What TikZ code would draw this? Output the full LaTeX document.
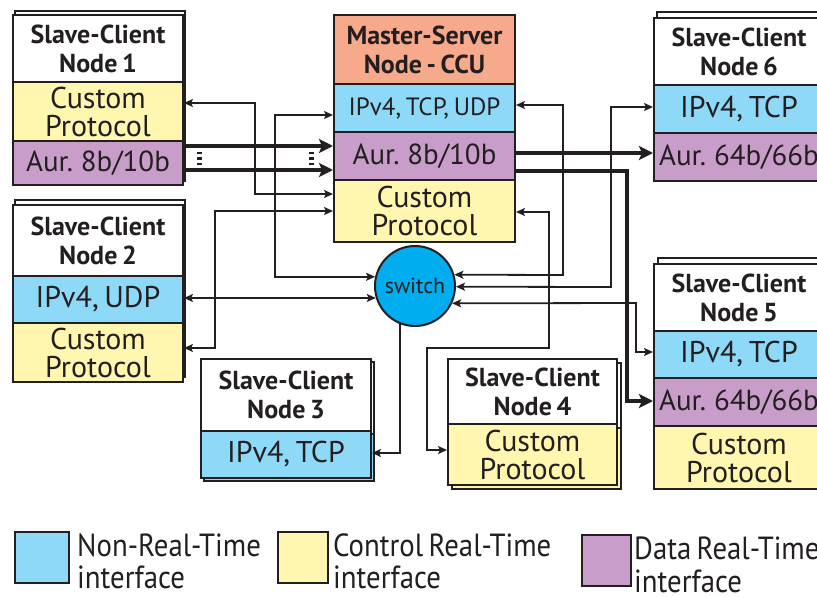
\documentclass[tikz,border=0pt]{standalone}
\usepackage{fontspec}
\setmainfont{PT Sans}[WordSpace=0.7]
\newfontfamily\legendfont[FakeStretch=0.9,WordSpace=0.7]{PT Sans}
\usetikzlibrary{arrows.meta}

\definecolor{ink}{HTML}{231F20}
\definecolor{hdrsalmon}{HTML}{F7A98B}
\definecolor{nrtblue}{HTML}{8ED8F8}
\definecolor{ctlyellow}{HTML}{FFF7B0}
\definecolor{datapurple}{HTML}{C99DC9}
\definecolor{switchblue}{HTML}{00AEEF}

\tikzset{
  seg/.style={draw=ink, line width=2pt, inner sep=0pt, anchor=north west,
              align=center, text=ink},
  hdr/.style={seg, fill=white, font=\fontsize{26}{29}\selectfont\bfseries},
  mhdr/.style={seg, fill=hdrsalmon, font=\fontsize{26}{29}\selectfont\bfseries},
  ctl/.style={seg, fill=ctlyellow, font=\fontsize{30}{28}\selectfont},
  dat/.style={seg, fill=datapurple, font=\fontsize{29}{30}\selectfont},
  nrt/.style={seg, fill=nrtblue, font=\fontsize{30}{30}\selectfont},
  backseg/.style={draw=ink, line width=2pt},
  tipthin/.tip={Stealth[length=9pt,width=8pt,inset=2pt]},
  tipbus/.tip={Stealth[length=14pt,width=14pt,inset=3pt]},
  link/.style={draw=ink, line width=1.8pt},
  both/.style={link, tipthin-tipthin},
  one/.style={link, -tipthin},
  bus/.style={draw=ink, line width=4.5pt, -tipbus},
  keybox/.style={draw=ink, line width=1.8pt, inner sep=0pt, anchor=north west},
  keytext/.style={anchor=base west, inner sep=0pt, text=ink,
                  font=\legendfont\fontsize{32}{32}\selectfont},
}
\newcommand\backlayer[4]{\draw[backseg, fill=#4] (#1) rectangle ++(#2,#3);}

\begin{document}
\begin{tikzpicture}[x=1pt,y=-1pt]
\useasboundingbox (0,0) rectangle (817,597);
\clip (0,0) rectangle (817,597);
\fill[white] (0,0) rectangle (817,597);

% ---------- stacked copies behind the slave-client nodes ----------
% node 1
\backlayer{15,11}{170}{67}{white}
\backlayer{15,78}{170}{59}{ctlyellow}
\backlayer{15,137}{170}{44}{datapurple}
% node 2
\backlayer{15,200}{170}{71}{white}
\backlayer{15,271}{170}{47}{nrtblue}
\backlayer{15,318}{170}{59}{ctlyellow}
% node 3
\backlayer{204,362}{170}{72}{white}
\backlayer{204,434}{170}{47}{nrtblue}
% node 4
\backlayer{452,363}{169}{65}{white}
\backlayer{452,428}{169}{61}{ctlyellow}
% node 5
\backlayer{658,258}{170}{67}{white}
\backlayer{658,325}{170}{47}{nrtblue}
\backlayer{658,372}{170}{48}{datapurple}
\backlayer{658,420}{170}{63}{ctlyellow}
% node 6
\backlayer{657,12}{170}{67}{white}
\backlayer{657,79}{170}{48}{nrtblue}
\backlayer{657,127}{170}{48}{datapurple}

% ---------- slave-client node 1 ----------
\node[hdr, minimum width=170pt, minimum height=67pt] (n1h) at (12,14) {Slave-Client\\Node 1};
\node[ctl, minimum width=170pt, minimum height=59pt] (n1c) at (12,81) {Custom\\Protocol};
\node[dat, minimum width=170pt, minimum height=44pt] (n1a) at (12,140) {Aur. 8b/10b};

% ---------- master-server node ----------
\node[mhdr, minimum width=181pt, minimum height=69pt] (mh) at (333,14) {Master-Server\\Node - CCU};
\node[nrt, minimum width=181pt, minimum height=48pt, font=\fontsize{25}{25}\selectfont] (mi) at (333,83) {IPv4, TCP, UDP};
\node[dat, minimum width=181pt, minimum height=48pt] (ma) at (333,131) {Aur. 8b/10b};
\node[ctl, minimum width=181pt, minimum height=62pt] (mc) at (333,179) {Custom\\Protocol};

% ---------- slave-client node 6 ----------
\node[hdr, minimum width=170pt, minimum height=67pt] (n6h) at (653,17) {Slave-Client\\Node 6};
\node[nrt, minimum width=170pt, minimum height=48pt] (n6i) at (653,84) {IPv4, TCP};
\node[dat, minimum width=170pt, minimum height=48pt] (n6a) at (653,132) {Aur. 64b/66b};

% ---------- slave-client node 2 ----------
\node[hdr, minimum width=170pt, minimum height=71pt] (n2h) at (12,204) {Slave-Client\\Node 2};
\node[nrt, minimum width=170pt, minimum height=47pt] (n2i) at (12,275) {IPv4, UDP};
\node[ctl, minimum width=170pt, minimum height=59pt] (n2c) at (12,322) {Custom\\Protocol};

% ---------- slave-client node 3 ----------
\node[hdr, minimum width=170pt, minimum height=72pt] (n3h) at (200,358) {Slave-Client\\Node 3};
\node[nrt, minimum width=170pt, minimum height=47pt] (n3i) at (200,430) {IPv4, TCP};

% ---------- slave-client node 4 ----------
\node[hdr, minimum width=169pt, minimum height=65pt] (n4h) at (447,358) {Slave-Client\\Node 4};
\node[ctl, minimum width=169pt, minimum height=61pt] (n4c) at (447,423) {Custom\\Protocol};

% ---------- slave-client node 5 ----------
\node[hdr, minimum width=170pt, minimum height=67pt] (n5h) at (653,263) {Slave-Client\\Node 5};
\node[nrt, minimum width=170pt, minimum height=47pt] (n5i) at (653,330) {IPv4, TCP};
\node[dat, minimum width=170pt, minimum height=48pt] (n5a) at (653,377) {Aur. 64b/66b};
\node[ctl, minimum width=170pt, minimum height=63pt] (n5c) at (653,425) {Custom\\Protocol};

% ---------- switch ----------
\node[circle, draw=ink, line width=2pt, fill=switchblue, minimum size=80pt,
      inner sep=0pt, text=ink, font=\fontsize{22}{22}\selectfont] (sw) at (415,286) {switch};

% ---------- control / non-real-time links ----------
\draw[both] (n1c.east |- 0,103) -| (255,194) -- (mc.west |- 0,194);
\draw[both] (sw.167) -| (275,115) -- (mi.west |- 0,115);
\draw[both] (n2c.east |- 0,348) -| (215,211) -- (mc.west |- 0,211);
\draw[both] (n2i.east |- 0,298) -- (sw.197.5);
\draw[both] (mi.east |- 0,105) -| (563,275) -- (sw.16);
\draw[both] (n6i.west |- 0,107) -| (611,287) -- (sw.-1.5);
\draw[both] (mc.east |- 0,212) -- (549,212) -- (549,348) -- (427,348) |- (n4c.west |- 0,450);
\draw[one] (sw.249.5) |- (n3i.east |- 0,453);
\draw[both] (sw.335) -- (636,303) |- (n5i.west |- 0,352);

% ---------- data real-time (Aurora) links ----------
\draw[bus] (n1a.east |- 0,146) -- (ma.west |- 0,146);
\draw[bus] (n1a.east |- 0,170) -- (ma.west |- 0,170);
\draw[bus] (ma.east |- 0,153) -- (n6a.west |- 0,153);
\draw[bus] (ma.east |- 0,171) -| (627,401) -- (n5a.west |- 0,401);

% vertical ellipsis marks between the two Aurora lanes
\foreach \xx in {197,309}
  \foreach \yy in {153,158.5,164}
    \fill[ink] (\xx,\yy-1.3) rectangle (\xx+4.5,\yy+1.3);

% ---------- legend ----------
\node[keybox, fill=nrtblue, minimum width=54pt, minimum height=51pt] (k1) at (14,531) {};
\node[keytext] (k1a) at (77,556) {Non-Real-Time};
\node[keytext] (k1b) at (77,588) {interface};
\node[keybox, fill=ctlyellow, minimum width=50pt, minimum height=51pt] (k2) at (277,531) {};
\node[keytext] (k2a) at (333,556) {Control Real-Time};
\node[keytext] (k2b) at (333,588) {interface};
\node[keybox, fill=datapurple, minimum width=49pt, minimum height=51pt] (k3) at (581,534) {};
\node[keytext] (k3a) at (634,559) {Data Real-Time};
\node[keytext] (k3b) at (634,592) {interface};
\end{tikzpicture}
\end{document}
